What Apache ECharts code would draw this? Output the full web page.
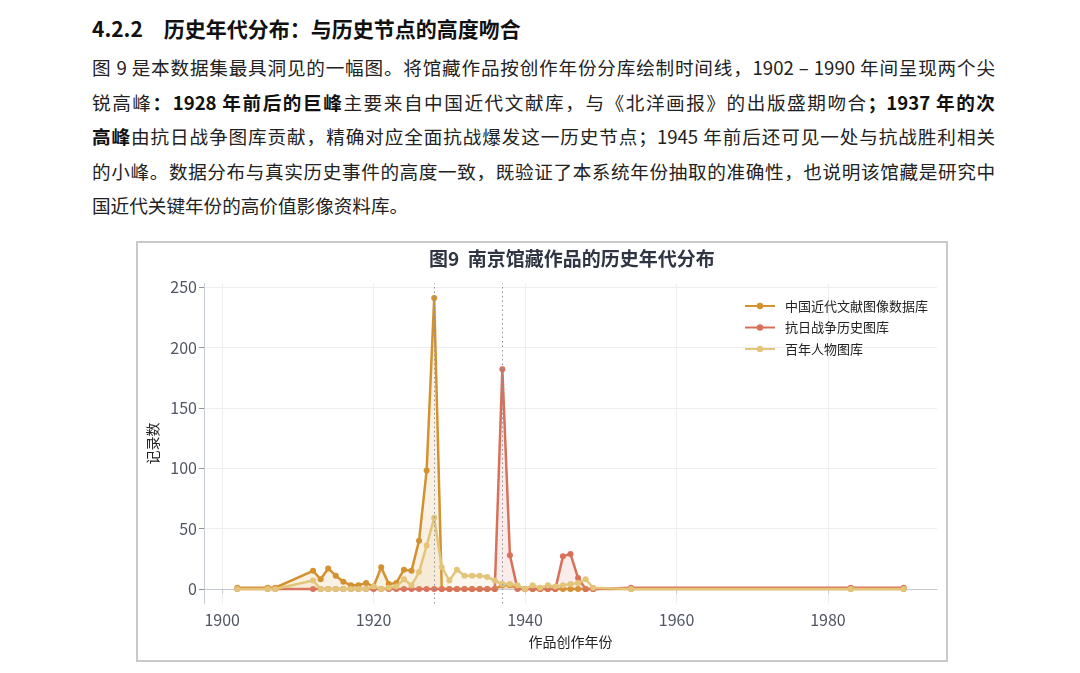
<!DOCTYPE html>
<html>
<head>
<meta charset="utf-8">
<script src="https://cdn.jsdelivr.net/npm/echarts@6/dist/echarts.min.js"></script>
<style>
  html, body { margin: 0; padding: 0; background: #fff; }
  body { width: 1080px; height: 673px; position: relative; overflow: hidden;
         font-family: "Noto Sans CJK SC", sans-serif; color: #222; }
  #heading { position: absolute; left: 92px; top: 12px; font-size: 21px; font-weight: bold;
             line-height: 32px; white-space: nowrap; color: #111; }
  #heading .num { margin-right: 21px; }
  .line { position: absolute; left: 92px; width: 903px; font-size: 18.6px; line-height: 34px;
          white-space: nowrap; text-align: justify; text-align-last: justify; color: #222; }
  .line.last { text-align-last: left; }
  .line b { font-weight: bold; color: #111; }
  #frame { position: absolute; left: 136px; top: 241px; width: 812px; height: 421px;
           box-sizing: border-box; border: 2px solid #c9c9c9; }
  #chart { position: absolute; left: 0; top: 0; width: 1080px; height: 673px; }
</style>
</head>
<body>
<div id="heading"><span class="num">4.2.2</span>历史年代分布：与历史节点的高度吻合</div>
<div class="line" style="top:50px">图 9 是本数据集最具洞见的一幅图。将馆藏作品按创作年份分库绘制时间线，1902 – 1990 年间呈现两个尖</div>
<div class="line" style="top:84.5px">锐高峰<b>：1928 年前后的巨峰</b>主要来自中国近代文献库，与《北洋画报》的出版盛期吻合<b>；1937 年的次</b></div>
<div class="line" style="top:119px"><b>高峰</b>由抗日战争图库贡献，精确对应全面抗战爆发这一历史节点；1945 年前后还可见一处与抗战胜利相关</div>
<div class="line" style="top:153.5px">的小峰。数据分布与真实历史事件的高度一致，既验证了本系统年份抽取的准确性，也说明该馆藏是研究中</div>
<div class="line last" style="top:188px">国近代关键年份的高价值影像资料库。</div>
<div id="frame"></div>
<div id="chart"></div>
<script>
// ---- data ----
const years = [1902, 1906, 1907,
  1912, 1913, 1914, 1915, 1916, 1917, 1918, 1919, 1920, 1921, 1922, 1923, 1924, 1925, 1926, 1927, 1928,
  1929, 1930, 1931, 1932, 1933, 1934, 1935, 1936, 1937, 1938, 1939,
  1940, 1941, 1942, 1943, 1944, 1945, 1946, 1947, 1948, 1949,
  1954, 1983, 1990];
const modernDocs = [1, 1, 1,
  15, 8, 17, 11, 6, 3, 3, 5, 2, 18, 4, 5, 16, 15, 40, 98, 241,
  0, 0, 0, 0, 0, 0, 0, 0, 3, 3, 1,
  0, 0, 0, 0, 0, 0, 0, 0, 0, 0,
  0, 0, 0];
const warHistory = [0, 0, 0,
  0, 0, 0, 0, 0, 0, 0, 0, 0, 0, 0, 0, 0, 0, 0, 0, 0,
  0, 0, 0, 0, 0, 0, 0, 0, 182, 28, 0,
  0, 0, 0, 0, 0, 27, 29, 9, 0, 0,
  1, 1, 1];
const centuryPeople = [0, 0, 0,
  7, 0, 0, 0, 0, 0, 0, 0, 2, 0, 1, 2, 8, 3, 14, 36, 59,
  18, 7, 16, 11, 11, 11, 10, 7, 4, 4, 3,
  0, 3, 1, 3, 2, 3, 4, 5, 8, 1,
  0, 0, 0];
const seriesNames = ['中国近代文献图像数据库', '抗日战争历史图库', '百年人物图库'];
const seriesColors = ['#D4912F', '#D9705A', '#E3C57A'];
const xTicks = [1900, 1920, 1940, 1960, 1980];
const yTicks = [0, 50, 100, 150, 200, 250];
const eventYears = [1928, 1937];

const FONT = '"Noto Sans CJK SC", sans-serif';
const pairs = vals => years.map((y, i) => [y, vals[i]]);

function makeSeries(name, vals, color, z, withMarks) {
  const s = {
    name: name, type: 'line', data: pairs(vals), z: z,
    symbol: 'circle', symbolSize: 6, showSymbol: true,
    lineStyle: { width: 2.5, color: color },
    itemStyle: { color: color },
    areaStyle: { color: color, opacity: 0.13 },
    emphasis: { disabled: true },
    animation: false
  };
  if (withMarks) {
    s.markLine = {
      silent: true, symbol: ['none', 'none'], label: { show: false },
      lineStyle: { type: [1.5, 3], color: '#8e939c', width: 1 },
      data: eventYears.map(y => ({ xAxis: y }))
    };
  }
  return s;
}

const chart = echarts.init(document.getElementById('chart'), null, { renderer: 'canvas' });
chart.setOption({
  animation: false,
  textStyle: { fontFamily: FONT },
  title: {
    text: '图9  南京馆藏作品的历史年代分布',
    left: 429, top: 249, padding: 0,
    textStyle: { fontSize: 19, fontWeight: 'bold', color: '#2f3542', fontFamily: FONT }
  },
  legend: {
    orient: 'vertical', left: 739, top: 294, itemGap: 7.5,
    itemWidth: 30, itemHeight: 8,
    textStyle: { fontSize: 13, color: '#222', fontFamily: FONT, padding: [0, 0, 0, 5], lineHeight: 14 },
    data: seriesNames
  },
  grid: { left: 204, top: 283.4, right: 143, bottom: 69.5, containLabel: false },
  xAxis: {
    type: 'value', min: 1897.6, max: 1994.4,
    name: '作品创作年份', nameLocation: 'middle', nameGap: 31,
    nameTextStyle: { fontSize: 14, color: '#222', fontFamily: FONT },
    axisLine: { show: true, lineStyle: { color: '#c5cad3', width: 1 } },
    axisTick: { show: true, length: 5, lineStyle: { color: '#c5cad3' }, customValues: xTicks },
    axisLabel: { fontSize: 16, color: '#4f5563', margin: 8, customValues: xTicks, fontFamily: FONT,
                 formatter: v => String(v) },
    splitLine: { show: true, lineStyle: { color: '#eceef2', width: 1 } }
  },
  yAxis: {
    type: 'value', min: -12.05, max: 253.05,
    name: '记录数', nameLocation: 'middle', nameGap: 44, nameRotate: 90,
    nameTextStyle: { fontSize: 14, color: '#222', fontFamily: FONT },
    axisLine: { show: true, lineStyle: { color: '#c5cad3', width: 1 } },
    axisTick: { show: true, length: 5, lineStyle: { color: '#8e939c' }, customValues: yTicks },
    axisLabel: { fontSize: 16, color: '#4f5563', margin: 7, customValues: yTicks, fontFamily: FONT,
                 formatter: v => String(v) },
    splitLine: { show: true, lineStyle: { color: '#eceef2', width: 1 } }
  },
  series: [
    makeSeries(seriesNames[0], modernDocs, seriesColors[0], 2, true),
    makeSeries(seriesNames[1], warHistory, seriesColors[1], 3, false),
    makeSeries(seriesNames[2], centuryPeople, seriesColors[2], 4, false)
  ]
});
</script>
</body>
</html>
